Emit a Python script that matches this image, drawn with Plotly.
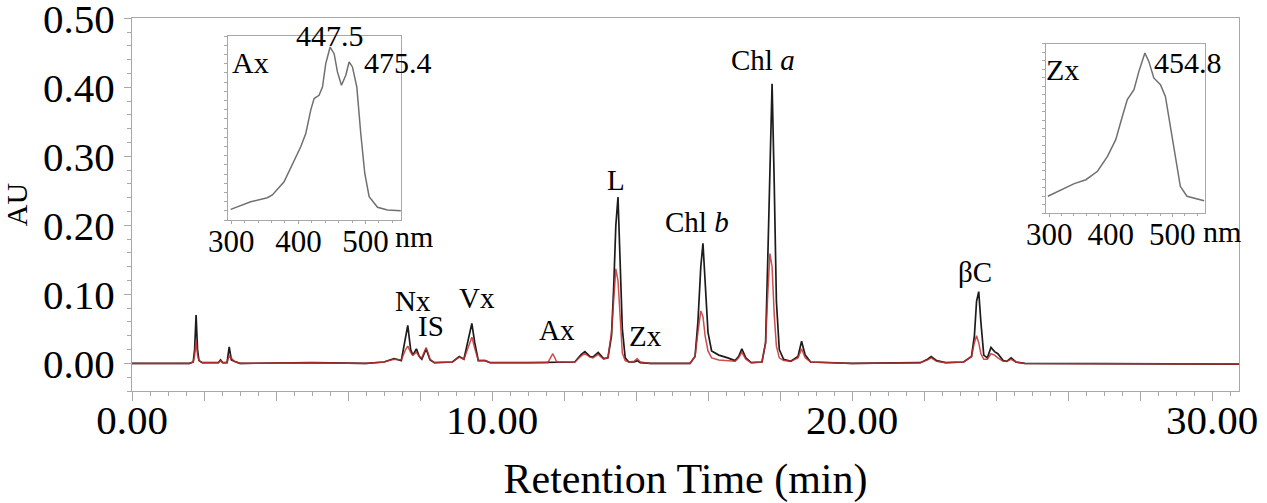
import plotly.graph_objects as go

# chromatogram (min, AU)
rt_min = [0.00, 1.60, 1.70, 1.74, 1.78, 1.82, 1.86, 1.95, 2.40, 2.46, 2.52, 2.64, 2.70, 2.76, 2.84, 3.00,
          5.00, 6.50, 7.00, 7.28, 7.48, 7.60, 7.66, 7.74, 7.80, 7.90, 7.98, 8.05, 8.17, 8.28, 8.40,
          8.90, 9.09, 9.22, 9.36, 9.44, 9.52, 9.62, 9.81, 9.95, 11.00, 11.55, 11.69, 11.80,
          12.30, 12.48, 12.58, 12.72, 12.80, 12.95, 13.10, 13.22, 13.32, 13.38, 13.44, 13.50, 13.56,
          13.62, 13.70, 13.80, 13.95, 14.03, 14.12, 14.40, 15.50, 15.64, 15.72, 15.80, 15.86, 15.92,
          16.00, 16.10, 16.30, 16.55, 16.75, 16.85, 16.94, 17.05, 17.20, 17.50, 17.60, 17.66, 17.72,
          17.78, 17.84, 17.90, 17.98, 18.10, 18.30, 18.50, 18.60, 18.70, 18.85, 20.00, 21.90, 22.10,
          22.20, 22.35, 22.60, 23.10, 23.32, 23.40, 23.46, 23.52, 23.58, 23.66, 23.76, 23.86, 23.96,
          24.05, 24.20, 24.30, 24.42, 24.55, 24.80, 30.75]
au_black = [0.000, 0.000, 0.002, 0.020, 0.070, 0.020, 0.004, 0.001, 0.001, 0.005, 0.001, 0.001, 0.024, 0.005, 0.003, 0.000,
            0.001, 0.000, 0.002, 0.007, 0.004, 0.035, 0.055, 0.020, 0.012, 0.021, 0.010, 0.006, 0.021, 0.005, 0.001,
            0.002, 0.010, 0.006, 0.040, 0.058, 0.030, 0.004, 0.004, 0.001, 0.001, 0.001, 0.002, 0.001,
            0.002, 0.013, 0.017, 0.010, 0.009, 0.016, 0.007, 0.008, 0.040, 0.110, 0.200, 0.241, 0.150,
            0.050, 0.008, 0.002, 0.002, 0.004, 0.001, 0.000, 0.000, 0.010, 0.060, 0.140, 0.174, 0.120,
            0.045, 0.018, 0.012, 0.008, 0.004, 0.010, 0.021, 0.008, 0.001, 0.002, 0.030, 0.150, 0.300,
            0.405, 0.260, 0.090, 0.020, 0.006, 0.003, 0.010, 0.032, 0.012, 0.002, 0.000, 0.001, 0.006,
            0.010, 0.004, 0.001, 0.002, 0.010, 0.040, 0.090, 0.104, 0.060, 0.012, 0.008, 0.023, 0.017,
            0.014, 0.004, 0.003, 0.008, 0.002, 0.000, -0.001]
au_red = [0.000, 0.000, 0.002, 0.012, 0.033, 0.012, 0.004, 0.001, 0.001, 0.004, 0.001, 0.001, 0.011, 0.007, 0.003, 0.000,
          0.001, 0.000, 0.002, 0.006, 0.005, 0.020, 0.025, 0.016, 0.012, 0.016, 0.010, 0.008, 0.023, 0.006, 0.001,
          0.002, 0.009, 0.006, 0.028, 0.038, 0.022, 0.004, 0.004, 0.001, 0.001, 0.001, 0.014, 0.002,
          0.002, 0.011, 0.014, 0.009, 0.008, 0.013, 0.006, 0.008, 0.045, 0.100, 0.137, 0.120, 0.060,
          0.015, 0.004, 0.002, 0.003, 0.007, 0.002, 0.000, 0.000, 0.010, 0.045, 0.076, 0.068, 0.040,
          0.018, 0.008, 0.005, 0.004, 0.003, 0.008, 0.016, 0.006, 0.001, 0.002, 0.030, 0.100, 0.159,
          0.140, 0.070, 0.025, 0.008, 0.004, 0.003, 0.008, 0.021, 0.008, 0.002, 0.000, 0.001, 0.005,
          0.008, 0.003, 0.001, 0.002, 0.010, 0.030, 0.040, 0.030, 0.014, 0.006, 0.006, 0.014, 0.012,
          0.008, 0.003, 0.003, 0.006, 0.002, 0.000, -0.001]

peak_names = ["Nx", "IS", "Vx", "Ax", "L", "Zx", "Chl <i>b</i>", "Chl <i>a</i>", "βC"]
peak_label_rt = [7.81, 8.31, 9.58, 11.81, 13.44, 14.25, 15.69, 17.53, 23.42]
peak_label_au = [0.091, 0.054, 0.094, 0.048, 0.265, 0.039, 0.205, 0.439, 0.132]

x_tickvals = [0, 2, 4, 6, 8, 10, 12, 14, 16, 18, 20, 22, 24, 26, 28, 30]
x_ticktext = ["0.00", "", "", "", "", "10.00", "", "", "", "", "20.00", "", "", "", "", "30.00"]
y_tickvals = [0.0, 0.1, 0.2, 0.3, 0.4, 0.5]

# UV-vis spectra of the insets (nm, relative absorbance)
ax_nm = [299.0, 328.9, 353.7, 361.2, 378.6, 393.5, 403.5, 411.0, 418.4, 423.4, 430.8, 435.9, 440.8, 447.3,
         453.3, 458.2, 464.2, 470.7, 475.6, 480.6, 487.1, 493.0, 499.0, 505.5, 518.0, 532.9, 552.7]
ax_abs = [0.058, 0.099, 0.121, 0.136, 0.208, 0.325, 0.398, 0.470, 0.597, 0.660, 0.678, 0.723, 0.850, 0.940,
          0.904, 0.805, 0.732, 0.787, 0.859, 0.832, 0.723, 0.470, 0.253, 0.127, 0.069, 0.054, 0.051]
zx_nm = [297.9, 319.4, 340.8, 359.7, 378.5, 394.7, 408.1, 418.9, 426.9, 437.7, 445.7, 455.4, 461.8,
         469.9, 480.7, 488.7, 496.8, 504.9, 512.9, 523.7, 539.9, 551.6]
zx_abs = [0.099, 0.138, 0.174, 0.197, 0.247, 0.335, 0.434, 0.572, 0.671, 0.730, 0.838, 0.947, 0.897,
          0.799, 0.759, 0.690, 0.513, 0.316, 0.158, 0.099, 0.083, 0.073]
spec_ticks = [300, 400, 500]

FONT = "Liberation Serif"
GREY = "#a8a8a8"

fig = go.Figure()
fig.add_trace(go.Scatter(x=rt_min, y=au_black, mode="lines", line=dict(color="#1c1c1c", width=1.7)))
fig.add_trace(go.Scatter(x=rt_min, y=au_red, mode="lines", line=dict(color="rgba(196,45,45,0.85)", width=1.5)))
fig.add_trace(go.Scatter(x=ax_nm, y=ax_abs, mode="lines", line=dict(color="#707070", width=1.5),
                         xaxis="x2", yaxis="y2"))
fig.add_trace(go.Scatter(x=zx_nm, y=zx_abs, mode="lines", line=dict(color="#707070", width=1.5),
                         xaxis="x3", yaxis="y3"))

for name, rt, au in zip(peak_names, peak_label_rt, peak_label_au):
    fig.add_annotation(x=rt, y=au, xref="x", yref="y", text=name, showarrow=False,
                       xanchor="center", yanchor="middle",
                       font=dict(family=FONT, size=29, color="black"))

# inset texts (paper coords of the plot area)
inset_texts = [("447.5", 0.1789, 0.9544), ("475.4", 0.2403, 0.882), ("Ax", 0.1066, 0.8794),
               ("nm", 0.2548, 0.415), ("Zx", 0.841, 0.8606), ("454.8", 0.9539, 0.882),
               ("nm", 0.9846, 0.4263)]
for txt, px, py in inset_texts:
    fig.add_annotation(x=px, y=py, xref="paper", yref="paper", text=txt, showarrow=False,
                       xanchor="center", yanchor="middle",
                       font=dict(family=FONT, size=30, color="black"))

inset_x = dict(range=[295, 553], tickvals=spec_ticks, ticks="outside", ticklen=3, tickcolor=GREY,
               showline=True, linecolor=GREY, mirror=True, showgrid=False, zeroline=False,
               ticklabelstandoff=-9, automargin=False,
               tickfont=dict(family=FONT, size=31, color="black"),
               minor=dict(dtick=20, ticks="outside", ticklen=2, tickcolor=GREY))
inset_y = dict(range=[0, 1], ticks="outside", ticklen=3, dtick=0.05, tickcolor=GREY,
               showticklabels=False, showline=True, linecolor=GREY, mirror=True,
               showgrid=False, zeroline=False, automargin=False)

fig.update_layout(
    width=1267, height=503,
    margin=dict(l=132, r=28, t=18, b=112),
    paper_bgcolor="white", plot_bgcolor="white",
    showlegend=False,
    font=dict(family=FONT, color="black"),
    xaxis=dict(range=[0, 30.75], tickvals=x_tickvals, ticktext=x_ticktext, ticks="outside",
               ticklen=9, tickcolor=GREY, showline=True, linecolor=GREY, mirror=True,
               showgrid=False, zeroline=False, tickfont=dict(size=41), ticklabelstandoff=-16,
               ticklabeloverflow="allow", automargin=False,
               minor=dict(dtick=0.5, ticks="outside", ticklen=4, tickcolor=GREY),
               title=dict(text="Retention Time (min)", font=dict(size=42), standoff=23)),
    yaxis=dict(range=[-0.04, 0.5003], tickvals=y_tickvals, tickformat=".2f",
               ticks="outside", ticklen=7, tickcolor=GREY, showline=True, linecolor=GREY, mirror=True,
               showgrid=False, zeroline=False, tickfont=dict(size=41), ticklabelstandoff=1,
               ticklabeloverflow="allow", automargin=False,
               minor=dict(dtick=0.02, ticks="outside", ticklen=4, tickcolor=GREY),
               title=dict(text="AU", font=dict(size=30), standoff=20)),
    xaxis2=dict(domain=[0.0867, 0.2430], anchor="y2", **inset_x),
    yaxis2=dict(domain=[0.4584, 0.9517], anchor="x2", **inset_y),
    xaxis3=dict(domain=[0.8257, 0.9693], anchor="y3", **inset_x),
    yaxis3=dict(domain=[0.4772, 0.9303], anchor="x3", **inset_y),
)

# drop the page's default body margin so the figure fills the window exactly
fig.write_html("out.html", config={"displayModeBar": False},
               post_script="document.body.style.margin = '0';")
